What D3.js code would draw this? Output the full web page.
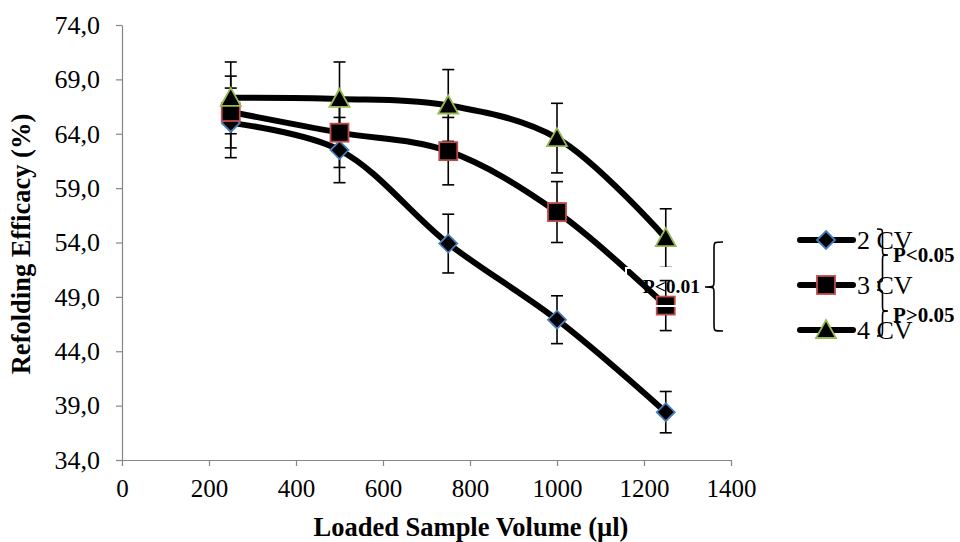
<!DOCTYPE html>
<html>
<head>
<meta charset="utf-8">
<script src="https://cdn.jsdelivr.net/npm/d3@7"></script>
<style>
  html, body { margin: 0; padding: 0; background: #fff; }
  svg { display: block; }
  text { font-family: "Liberation Serif", "Times New Roman", serif; }
</style>
</head>
<body>
<svg id="chart" width="960" height="542"></svg>
<script>
// ---- data ----
const volumes = [250, 500, 750, 1000, 1250];
const seriesNames = ["2 CV", "3 CV", "4 CV"];
const cv2 = [65.0, 62.5, 53.9, 46.9, 38.4];
const cv3 = [66.0, 64.1, 62.4, 56.8, 48.2];
const cv4 = [67.3, 67.2, 66.6, 63.6, 54.4];
const cv2Err = [3.2, 3.0, 2.7, 2.2, 1.9];
const cv3Err = [3.3, 3.2, 3.1, 2.8, 2.3];
const cv4Err = [3.3, 3.4, 3.3, 3.2, 2.7];
const xTicks = [0, 200, 400, 600, 800, 1000, 1200, 1400];
const yTicks = [34, 39, 44, 49, 54, 59, 64, 69, 74];
const xTitle = "Loaded Sample Volume (µl)";
const yTitle = "Refolding Efficacy (%)";
const pLabels = ["P<0.01", "P<0.05", "P>0.05"];

// ---- layout ----
const svg = d3.select("#chart");
const x = d3.scaleLinear().domain([0, 1400]).range([122, 731]);
const y = d3.scaleLinear().domain([34, 74]).range([460, 25]);
const axisColor = "#868686";

const series = [
  { name: seriesNames[0], values: cv2, err: cv2Err, shape: "diamond", stroke: "#4a7ebb" },
  { name: seriesNames[1], values: cv3, err: cv3Err, shape: "square", stroke: "#be4b48" },
  { name: seriesNames[2], values: cv4, err: cv4Err, shape: "triangle", stroke: "#98b954" }
];

// axes
const xAxis = svg.append("g").attr("transform", `translate(0,${y(34)})`)
  .call(d3.axisBottom(x).tickValues(xTicks).tickSize(6).tickSizeOuter(0).tickPadding(8).tickFormat(d3.format("d")));
const yAxis = svg.append("g").attr("transform", `translate(${x(0)},0)`)
  .call(d3.axisLeft(y).tickValues(yTicks).tickSize(6).tickSizeOuter(0).tickPadding(16)
    .tickFormat(d => d3.format(".1f")(d).replace(".", ",")));
[xAxis, yAxis].forEach(g => {
  g.select(".domain").attr("stroke", axisColor).attr("stroke-width", 1.2);
  g.selectAll(".tick line").attr("stroke", axisColor).attr("stroke-width", 1.2);
  g.selectAll(".tick text").attr("fill", "#000").style("font-size", "25px")
    .style("font-family", '"Liberation Serif", "Times New Roman", serif');
});
yAxis.selectAll(".tick text").style("font-size", "26px");
xAxis.selectAll(".tick text").attr("dy", "0.9em");

// titles
svg.append("text").attr("x", 471).attr("y", 536).attr("text-anchor", "middle")
  .style("font-size", "26.5px").style("font-weight", "bold").text(xTitle);
svg.append("text").attr("transform", "translate(30,244) rotate(-90)").attr("text-anchor", "middle")
  .style("font-size", "26.5px").style("font-weight", "bold").text(yTitle);

// lines
const line = d3.line().x((d, i) => x(volumes[i])).y(d => y(d)).curve(d3.curveCatmullRom.alpha(0.5));
series.forEach(s => {
  svg.append("path").datum(s.values).attr("d", line)
    .attr("fill", "none").attr("stroke", "#000").attr("stroke-width", 6).attr("stroke-linecap", "round");
});

// error bars
series.forEach(s => {
  const g = svg.append("g").attr("stroke", "#000").attr("stroke-width", 1.6);
  s.values.forEach((v, i) => {
    const cx = x(volumes[i]);
    const t = y(v + s.err[i]), b = y(v - s.err[i]);
    g.append("line").attr("x1", cx).attr("x2", cx).attr("y1", t).attr("y2", b);
    g.append("line").attr("x1", cx - 6).attr("x2", cx + 6).attr("y1", t).attr("y2", t);
    g.append("line").attr("x1", cx - 6).attr("x2", cx + 6).attr("y1", b).attr("y2", b);
  });
});

// markers
function marker(g, shape, cx, cy, stroke) {
  if (shape === "diamond") {
    const r = 9;
    g.append("path").attr("d", `M${cx},${cy - r}L${cx + r},${cy}L${cx},${cy + r}L${cx - r},${cy}Z`)
      .attr("fill", "#000").attr("stroke", stroke).attr("stroke-width", 1.8);
  } else if (shape === "square") {
    const r = 9;
    g.append("rect").attr("x", cx - r).attr("y", cy - r).attr("width", 2 * r).attr("height", 2 * r)
      .attr("fill", "#000").attr("stroke", stroke).attr("stroke-width", 1.8);
  } else {
    const r = 10;
    g.append("path").attr("d", `M${cx},${cy - r}L${cx + r},${cy + 8}L${cx - r},${cy + 8}Z`)
      .attr("fill", "#000").attr("stroke", stroke).attr("stroke-width", 1.8);
  }
}
series.forEach(s => {
  const g = svg.append("g");
  s.values.forEach((v, i) => marker(g, s.shape, x(volumes[i]), y(v), s.stroke));
});

// text box (white outline) with P<0.01
svg.append("rect").attr("x", 626).attr("y", 268).attr("width", 76).attr("height", 38)
  .attr("fill", "none").attr("stroke", "#fff").attr("stroke-width", 2);
svg.append("text").attr("x", 700).attr("y", 293).attr("text-anchor", "end")
  .style("font-size", "19.5px").style("font-weight", "bold").text(pLabels[0]);

// legend
const legY = [240, 285, 330];
series.forEach((s, i) => {
  const g = svg.append("g");
  g.append("line").attr("x1", 800).attr("x2", 853).attr("y1", legY[i]).attr("y2", legY[i])
    .attr("stroke", "#000").attr("stroke-width", 6).attr("stroke-linecap", "round");
  marker(g, s.shape, 826, legY[i], s.stroke);
  g.append("text").attr("x", 857).attr("y", legY[i] + 9).style("font-size", "26px").text(s.name);
});

// braces
function brace(x0, y1, y2, w, dir, ym) {
  ym = ym === undefined ? (y1 + y2) / 2 : ym;
  const xm = x0 + dir * w * 0.5, xt = x0 + dir * w, q = Math.min(6, (y2 - y1) / 6);
  return `M${x0},${y1} C${xm},${y1} ${xm},${y1} ${xm},${y1 + q} L${xm},${ym - q} C${xm},${ym} ${xm},${ym} ${xt},${ym}` +
    ` C${xm},${ym} ${xm},${ym} ${xm},${ym + q} L${xm},${y2 - q} C${xm},${y2} ${xm},${y2} ${x0},${y2}`;
}
const bg = svg.append("g").attr("fill", "none").attr("stroke", "#000").attr("stroke-width", 1.6);
bg.append("path").attr("d", brace(723, 242, 331, 18, -1, 287));
bg.append("path").attr("d", brace(877, 229, 282, 11, 1, 255));
bg.append("path").attr("d", brace(877, 290, 336, 11, 1, 311));
svg.append("text").attr("x", 893).attr("y", 262).style("font-size", "21px").style("font-weight", "bold").text(pLabels[1]);
svg.append("text").attr("x", 893).attr("y", 322).style("font-size", "21px").style("font-weight", "bold").text(pLabels[2]);
</script>
</body>
</html>
